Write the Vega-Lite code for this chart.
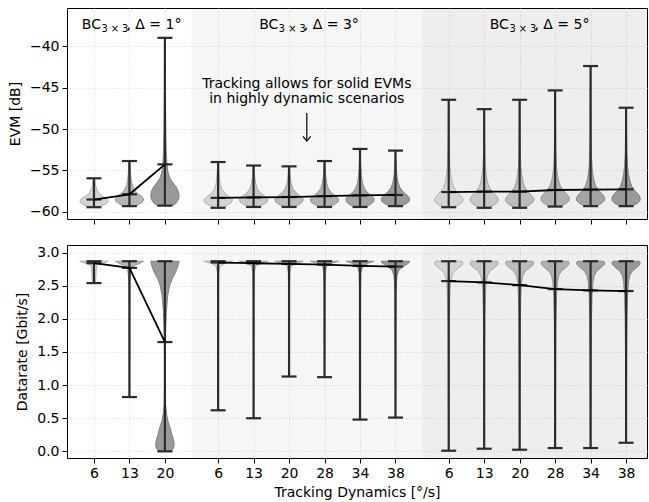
{
  "$schema": "https://vega.github.io/schema/vega-lite/v6.json",
  "padding": {"left": 7, "top": 7, "right": 1, "bottom": 0},
  "spacing": 19,
  "datasets": {
    "bands": [
      {"x1": 2.75, "x2": 9.25, "g": "b"},
      {"x1": 9.25, "x2": 15.59, "g": "c"}
    ],
    "evm": [
      {"pos": 0, "grp": 1, "speed": 6, "min": -59.43, "max": -55.94, "mean": -58.5},
      {"pos": 1, "grp": 1, "speed": 13, "min": -59.3, "max": -53.86, "mean": -57.87},
      {"pos": 2, "grp": 1, "speed": 20, "min": -59.24, "max": -39.0, "mean": -54.26},
      {"pos": 3.5, "grp": 2, "speed": 6, "min": -59.5, "max": -53.98, "mean": -58.3},
      {"pos": 4.5, "grp": 2, "speed": 13, "min": -59.4, "max": -54.4, "mean": -58.25},
      {"pos": 5.5, "grp": 2, "speed": 20, "min": -59.4, "max": -54.5, "mean": -58.2},
      {"pos": 6.5, "grp": 2, "speed": 28, "min": -59.4, "max": -53.86, "mean": -58.1},
      {"pos": 7.5, "grp": 2, "speed": 34, "min": -59.4, "max": -52.4, "mean": -58.0},
      {"pos": 8.5, "grp": 2, "speed": 38, "min": -59.3, "max": -52.6, "mean": -57.95},
      {"pos": 10, "grp": 3, "speed": 6, "min": -59.43, "max": -46.47, "mean": -57.6},
      {"pos": 11, "grp": 3, "speed": 13, "min": -59.5, "max": -47.6, "mean": -57.55},
      {"pos": 12, "grp": 3, "speed": 20, "min": -59.5, "max": -46.47, "mean": -57.55},
      {"pos": 13, "grp": 3, "speed": 28, "min": -59.35, "max": -45.34, "mean": -57.35},
      {"pos": 14, "grp": 3, "speed": 34, "min": -59.3, "max": -42.4, "mean": -57.3},
      {"pos": 15, "grp": 3, "speed": 38, "min": -59.3, "max": -47.43, "mean": -57.27}
    ],
    "dr": [
      {"pos": 0, "grp": 1, "speed": 6, "min": 2.54, "max": 2.87, "mean": 2.84},
      {"pos": 1, "grp": 1, "speed": 13, "min": 0.82, "max": 2.87, "mean": 2.77},
      {"pos": 2, "grp": 1, "speed": 20, "min": 0.0, "max": 2.87, "mean": 1.65},
      {"pos": 3.5, "grp": 2, "speed": 6, "min": 0.62, "max": 2.87, "mean": 2.85},
      {"pos": 4.5, "grp": 2, "speed": 13, "min": 0.5, "max": 2.87, "mean": 2.84},
      {"pos": 5.5, "grp": 2, "speed": 20, "min": 1.13, "max": 2.87, "mean": 2.83},
      {"pos": 6.5, "grp": 2, "speed": 28, "min": 1.12, "max": 2.87, "mean": 2.82},
      {"pos": 7.5, "grp": 2, "speed": 34, "min": 0.48, "max": 2.87, "mean": 2.8},
      {"pos": 8.5, "grp": 2, "speed": 38, "min": 0.51, "max": 2.87, "mean": 2.79},
      {"pos": 10, "grp": 3, "speed": 6, "min": 0.01, "max": 2.87, "mean": 2.57},
      {"pos": 11, "grp": 3, "speed": 13, "min": 0.04, "max": 2.87, "mean": 2.55},
      {"pos": 12, "grp": 3, "speed": 20, "min": 0.025, "max": 2.87, "mean": 2.51},
      {"pos": 13, "grp": 3, "speed": 28, "min": 0.05, "max": 2.87, "mean": 2.45},
      {"pos": 14, "grp": 3, "speed": 34, "min": 0.05, "max": 2.87, "mean": 2.43},
      {"pos": 15, "grp": 3, "speed": 38, "min": 0.13, "max": 2.87, "mean": 2.42}
    ],
    "evmv": [
      {"pos": 0, "lv": 0, "y": -59.43, "w": 0.12}, {"pos": 0, "lv": 0, "y": -59.2, "w": 0.26}, {"pos": 0, "lv": 0, "y": -58.95, "w": 0.36}, {"pos": 0, "lv": 0, "y": -58.7, "w": 0.4}, {"pos": 0, "lv": 0, "y": -58.4, "w": 0.35}, {"pos": 0, "lv": 0, "y": -58.1, "w": 0.24}, {"pos": 0, "lv": 0, "y": -57.7, "w": 0.13}, {"pos": 0, "lv": 0, "y": -57.2, "w": 0.07}, {"pos": 0, "lv": 0, "y": -56.6, "w": 0.04}, {"pos": 0, "lv": 0, "y": -55.94, "w": 0.02},
      {"pos": 1, "lv": 0.5, "y": -59.3, "w": 0.14}, {"pos": 1, "lv": 0.5, "y": -59.0, "w": 0.3}, {"pos": 1, "lv": 0.5, "y": -58.7, "w": 0.39}, {"pos": 1, "lv": 0.5, "y": -58.4, "w": 0.4}, {"pos": 1, "lv": 0.5, "y": -58.1, "w": 0.34}, {"pos": 1, "lv": 0.5, "y": -57.8, "w": 0.24}, {"pos": 1, "lv": 0.5, "y": -57.4, "w": 0.15}, {"pos": 1, "lv": 0.5, "y": -56.9, "w": 0.09}, {"pos": 1, "lv": 0.5, "y": -56.2, "w": 0.05}, {"pos": 1, "lv": 0.5, "y": -55.2, "w": 0.03}, {"pos": 1, "lv": 0.5, "y": -53.86, "w": 0.015},
      {"pos": 2, "lv": 1, "y": -59.24, "w": 0.2}, {"pos": 2, "lv": 1, "y": -59.0, "w": 0.3}, {"pos": 2, "lv": 1, "y": -58.5, "w": 0.38}, {"pos": 2, "lv": 1, "y": -58.0, "w": 0.4}, {"pos": 2, "lv": 1, "y": -57.5, "w": 0.38}, {"pos": 2, "lv": 1, "y": -57.0, "w": 0.32}, {"pos": 2, "lv": 1, "y": -56.5, "w": 0.23}, {"pos": 2, "lv": 1, "y": -56.0, "w": 0.15}, {"pos": 2, "lv": 1, "y": -55.3, "w": 0.09}, {"pos": 2, "lv": 1, "y": -54.3, "w": 0.06}, {"pos": 2, "lv": 1, "y": -52.5, "w": 0.035}, {"pos": 2, "lv": 1, "y": -49, "w": 0.022}, {"pos": 2, "lv": 1, "y": -45, "w": 0.015}, {"pos": 2, "lv": 1, "y": -42, "w": 0.012}, {"pos": 2, "lv": 1, "y": -39.0, "w": 0.008},
      {"pos": 3.5, "lv": 0, "y": -59.5, "w": 0.1}, {"pos": 3.5, "lv": 0, "y": -59.2, "w": 0.25}, {"pos": 3.5, "lv": 0, "y": -58.9, "w": 0.37}, {"pos": 3.5, "lv": 0, "y": -58.55, "w": 0.4}, {"pos": 3.5, "lv": 0, "y": -58.2, "w": 0.32}, {"pos": 3.5, "lv": 0, "y": -57.8, "w": 0.2}, {"pos": 3.5, "lv": 0, "y": -57.3, "w": 0.11}, {"pos": 3.5, "lv": 0, "y": -56.7, "w": 0.06}, {"pos": 3.5, "lv": 0, "y": -55.8, "w": 0.035}, {"pos": 3.5, "lv": 0, "y": -54.8, "w": 0.02}, {"pos": 3.5, "lv": 0, "y": -53.98, "w": 0.01},
      {"pos": 4.5, "lv": 0.2, "y": -59.4, "w": 0.12}, {"pos": 4.5, "lv": 0.2, "y": -59.1, "w": 0.28}, {"pos": 4.5, "lv": 0.2, "y": -58.8, "w": 0.38}, {"pos": 4.5, "lv": 0.2, "y": -58.45, "w": 0.4}, {"pos": 4.5, "lv": 0.2, "y": -58.1, "w": 0.31}, {"pos": 4.5, "lv": 0.2, "y": -57.7, "w": 0.19}, {"pos": 4.5, "lv": 0.2, "y": -57.2, "w": 0.1}, {"pos": 4.5, "lv": 0.2, "y": -56.6, "w": 0.06}, {"pos": 4.5, "lv": 0.2, "y": -55.7, "w": 0.03}, {"pos": 4.5, "lv": 0.2, "y": -54.4, "w": 0.012},
      {"pos": 5.5, "lv": 0.4, "y": -59.4, "w": 0.12}, {"pos": 5.5, "lv": 0.4, "y": -59.1, "w": 0.28}, {"pos": 5.5, "lv": 0.4, "y": -58.8, "w": 0.38}, {"pos": 5.5, "lv": 0.4, "y": -58.45, "w": 0.4}, {"pos": 5.5, "lv": 0.4, "y": -58.1, "w": 0.32}, {"pos": 5.5, "lv": 0.4, "y": -57.7, "w": 0.2}, {"pos": 5.5, "lv": 0.4, "y": -57.2, "w": 0.11}, {"pos": 5.5, "lv": 0.4, "y": -56.6, "w": 0.06}, {"pos": 5.5, "lv": 0.4, "y": -55.7, "w": 0.03}, {"pos": 5.5, "lv": 0.4, "y": -54.5, "w": 0.012},
      {"pos": 6.5, "lv": 0.6, "y": -59.4, "w": 0.12}, {"pos": 6.5, "lv": 0.6, "y": -59.1, "w": 0.28}, {"pos": 6.5, "lv": 0.6, "y": -58.8, "w": 0.38}, {"pos": 6.5, "lv": 0.6, "y": -58.45, "w": 0.4}, {"pos": 6.5, "lv": 0.6, "y": -58.1, "w": 0.32}, {"pos": 6.5, "lv": 0.6, "y": -57.7, "w": 0.2}, {"pos": 6.5, "lv": 0.6, "y": -57.2, "w": 0.11}, {"pos": 6.5, "lv": 0.6, "y": -56.6, "w": 0.065}, {"pos": 6.5, "lv": 0.6, "y": -55.7, "w": 0.035}, {"pos": 6.5, "lv": 0.6, "y": -54.8, "w": 0.02}, {"pos": 6.5, "lv": 0.6, "y": -53.86, "w": 0.01},
      {"pos": 7.5, "lv": 0.8, "y": -59.4, "w": 0.13}, {"pos": 7.5, "lv": 0.8, "y": -59.1, "w": 0.29}, {"pos": 7.5, "lv": 0.8, "y": -58.8, "w": 0.38}, {"pos": 7.5, "lv": 0.8, "y": -58.4, "w": 0.4}, {"pos": 7.5, "lv": 0.8, "y": -58.05, "w": 0.33}, {"pos": 7.5, "lv": 0.8, "y": -57.65, "w": 0.21}, {"pos": 7.5, "lv": 0.8, "y": -57.15, "w": 0.12}, {"pos": 7.5, "lv": 0.8, "y": -56.5, "w": 0.07}, {"pos": 7.5, "lv": 0.8, "y": -55.6, "w": 0.04}, {"pos": 7.5, "lv": 0.8, "y": -54.5, "w": 0.022}, {"pos": 7.5, "lv": 0.8, "y": -53.5, "w": 0.012}, {"pos": 7.5, "lv": 0.8, "y": -52.4, "w": 0.006},
      {"pos": 8.5, "lv": 1, "y": -59.3, "w": 0.15}, {"pos": 8.5, "lv": 1, "y": -59.0, "w": 0.3}, {"pos": 8.5, "lv": 1, "y": -58.7, "w": 0.39}, {"pos": 8.5, "lv": 1, "y": -58.35, "w": 0.4}, {"pos": 8.5, "lv": 1, "y": -58.0, "w": 0.33}, {"pos": 8.5, "lv": 1, "y": -57.6, "w": 0.22}, {"pos": 8.5, "lv": 1, "y": -57.1, "w": 0.13}, {"pos": 8.5, "lv": 1, "y": -56.5, "w": 0.075}, {"pos": 8.5, "lv": 1, "y": -55.6, "w": 0.04}, {"pos": 8.5, "lv": 1, "y": -54.5, "w": 0.022}, {"pos": 8.5, "lv": 1, "y": -53.5, "w": 0.012}, {"pos": 8.5, "lv": 1, "y": -52.6, "w": 0.006},
      {"pos": 10, "lv": 0, "y": -59.43, "w": 0.12}, {"pos": 10, "lv": 0, "y": -59.1, "w": 0.3}, {"pos": 10, "lv": 0, "y": -58.75, "w": 0.39}, {"pos": 10, "lv": 0, "y": -58.4, "w": 0.4}, {"pos": 10, "lv": 0, "y": -58.0, "w": 0.33}, {"pos": 10, "lv": 0, "y": -57.5, "w": 0.22}, {"pos": 10, "lv": 0, "y": -57.0, "w": 0.14}, {"pos": 10, "lv": 0, "y": -56.4, "w": 0.095}, {"pos": 10, "lv": 0, "y": -55.6, "w": 0.06}, {"pos": 10, "lv": 0, "y": -54.6, "w": 0.035}, {"pos": 10, "lv": 0, "y": -53, "w": 0.02}, {"pos": 10, "lv": 0, "y": -50.5, "w": 0.012}, {"pos": 10, "lv": 0, "y": -48, "w": 0.008}, {"pos": 10, "lv": 0, "y": -46.47, "w": 0.005},
      {"pos": 11, "lv": 0.2, "y": -59.5, "w": 0.12}, {"pos": 11, "lv": 0.2, "y": -59.1, "w": 0.3}, {"pos": 11, "lv": 0.2, "y": -58.75, "w": 0.39}, {"pos": 11, "lv": 0.2, "y": -58.4, "w": 0.4}, {"pos": 11, "lv": 0.2, "y": -58.0, "w": 0.33}, {"pos": 11, "lv": 0.2, "y": -57.5, "w": 0.22}, {"pos": 11, "lv": 0.2, "y": -57.0, "w": 0.14}, {"pos": 11, "lv": 0.2, "y": -56.4, "w": 0.095}, {"pos": 11, "lv": 0.2, "y": -55.6, "w": 0.06}, {"pos": 11, "lv": 0.2, "y": -54.6, "w": 0.035}, {"pos": 11, "lv": 0.2, "y": -53, "w": 0.02}, {"pos": 11, "lv": 0.2, "y": -50.5, "w": 0.012}, {"pos": 11, "lv": 0.2, "y": -48.5, "w": 0.008}, {"pos": 11, "lv": 0.2, "y": -47.6, "w": 0.006},
      {"pos": 12, "lv": 0.4, "y": -59.5, "w": 0.12}, {"pos": 12, "lv": 0.4, "y": -59.1, "w": 0.3}, {"pos": 12, "lv": 0.4, "y": -58.75, "w": 0.39}, {"pos": 12, "lv": 0.4, "y": -58.4, "w": 0.4}, {"pos": 12, "lv": 0.4, "y": -58.0, "w": 0.33}, {"pos": 12, "lv": 0.4, "y": -57.5, "w": 0.22}, {"pos": 12, "lv": 0.4, "y": -57.0, "w": 0.14}, {"pos": 12, "lv": 0.4, "y": -56.4, "w": 0.095}, {"pos": 12, "lv": 0.4, "y": -55.6, "w": 0.06}, {"pos": 12, "lv": 0.4, "y": -54.6, "w": 0.035}, {"pos": 12, "lv": 0.4, "y": -53, "w": 0.02}, {"pos": 12, "lv": 0.4, "y": -50.5, "w": 0.012}, {"pos": 12, "lv": 0.4, "y": -48, "w": 0.008}, {"pos": 12, "lv": 0.4, "y": -46.47, "w": 0.005},
      {"pos": 13, "lv": 0.6, "y": -59.35, "w": 0.13}, {"pos": 13, "lv": 0.6, "y": -59.0, "w": 0.3}, {"pos": 13, "lv": 0.6, "y": -58.65, "w": 0.39}, {"pos": 13, "lv": 0.6, "y": -58.3, "w": 0.4}, {"pos": 13, "lv": 0.6, "y": -57.9, "w": 0.34}, {"pos": 13, "lv": 0.6, "y": -57.4, "w": 0.23}, {"pos": 13, "lv": 0.6, "y": -56.9, "w": 0.15}, {"pos": 13, "lv": 0.6, "y": -56.3, "w": 0.1}, {"pos": 13, "lv": 0.6, "y": -55.5, "w": 0.065}, {"pos": 13, "lv": 0.6, "y": -54.5, "w": 0.04}, {"pos": 13, "lv": 0.6, "y": -53, "w": 0.022}, {"pos": 13, "lv": 0.6, "y": -50.5, "w": 0.013}, {"pos": 13, "lv": 0.6, "y": -48, "w": 0.009}, {"pos": 13, "lv": 0.6, "y": -45.34, "w": 0.005},
      {"pos": 14, "lv": 0.8, "y": -59.3, "w": 0.13}, {"pos": 14, "lv": 0.8, "y": -59.0, "w": 0.3}, {"pos": 14, "lv": 0.8, "y": -58.65, "w": 0.39}, {"pos": 14, "lv": 0.8, "y": -58.3, "w": 0.4}, {"pos": 14, "lv": 0.8, "y": -57.9, "w": 0.34}, {"pos": 14, "lv": 0.8, "y": -57.4, "w": 0.23}, {"pos": 14, "lv": 0.8, "y": -56.9, "w": 0.15}, {"pos": 14, "lv": 0.8, "y": -56.3, "w": 0.1}, {"pos": 14, "lv": 0.8, "y": -55.5, "w": 0.065}, {"pos": 14, "lv": 0.8, "y": -54.5, "w": 0.04}, {"pos": 14, "lv": 0.8, "y": -53, "w": 0.022}, {"pos": 14, "lv": 0.8, "y": -50.5, "w": 0.013}, {"pos": 14, "lv": 0.8, "y": -48, "w": 0.009}, {"pos": 14, "lv": 0.8, "y": -45, "w": 0.006}, {"pos": 14, "lv": 0.8, "y": -42.4, "w": 0.004},
      {"pos": 15, "lv": 1, "y": -59.3, "w": 0.14}, {"pos": 15, "lv": 1, "y": -59.0, "w": 0.31}, {"pos": 15, "lv": 1, "y": -58.65, "w": 0.39}, {"pos": 15, "lv": 1, "y": -58.3, "w": 0.4}, {"pos": 15, "lv": 1, "y": -57.9, "w": 0.35}, {"pos": 15, "lv": 1, "y": -57.4, "w": 0.24}, {"pos": 15, "lv": 1, "y": -56.9, "w": 0.16}, {"pos": 15, "lv": 1, "y": -56.3, "w": 0.11}, {"pos": 15, "lv": 1, "y": -55.5, "w": 0.07}, {"pos": 15, "lv": 1, "y": -54.5, "w": 0.042}, {"pos": 15, "lv": 1, "y": -53, "w": 0.024}, {"pos": 15, "lv": 1, "y": -50.5, "w": 0.014}, {"pos": 15, "lv": 1, "y": -47.43, "w": 0.007}
    ],
    "drv": [
      {"pos": 0, "lv": 0, "y": 2.54, "w": 0.04}, {"pos": 0, "lv": 0, "y": 2.6, "w": 0.05}, {"pos": 0, "lv": 0, "y": 2.7, "w": 0.06}, {"pos": 0, "lv": 0, "y": 2.78, "w": 0.07}, {"pos": 0, "lv": 0, "y": 2.82, "w": 0.12}, {"pos": 0, "lv": 0, "y": 2.85, "w": 0.3}, {"pos": 0, "lv": 0, "y": 2.87, "w": 0.4},
      {"pos": 1, "lv": 0.5, "y": 0.82, "w": 0.005}, {"pos": 1, "lv": 0.5, "y": 1.5, "w": 0.008}, {"pos": 1, "lv": 0.5, "y": 2.2, "w": 0.012}, {"pos": 1, "lv": 0.5, "y": 2.6, "w": 0.02}, {"pos": 1, "lv": 0.5, "y": 2.75, "w": 0.05}, {"pos": 1, "lv": 0.5, "y": 2.8, "w": 0.12}, {"pos": 1, "lv": 0.5, "y": 2.84, "w": 0.3}, {"pos": 1, "lv": 0.5, "y": 2.87, "w": 0.4},
      {"pos": 2, "lv": 1, "y": 0.0, "w": 0.18}, {"pos": 2, "lv": 1, "y": 0.03, "w": 0.22}, {"pos": 2, "lv": 1, "y": 0.08, "w": 0.26}, {"pos": 2, "lv": 1, "y": 0.15, "w": 0.25}, {"pos": 2, "lv": 1, "y": 0.25, "w": 0.2}, {"pos": 2, "lv": 1, "y": 0.35, "w": 0.15}, {"pos": 2, "lv": 1, "y": 0.45, "w": 0.09}, {"pos": 2, "lv": 1, "y": 0.55, "w": 0.05}, {"pos": 2, "lv": 1, "y": 0.7, "w": 0.02}, {"pos": 2, "lv": 1, "y": 1.0, "w": 0.01}, {"pos": 2, "lv": 1, "y": 1.4, "w": 0.01}, {"pos": 2, "lv": 1, "y": 1.8, "w": 0.02}, {"pos": 2, "lv": 1, "y": 2.1, "w": 0.04}, {"pos": 2, "lv": 1, "y": 2.35, "w": 0.08}, {"pos": 2, "lv": 1, "y": 2.5, "w": 0.13}, {"pos": 2, "lv": 1, "y": 2.6, "w": 0.2}, {"pos": 2, "lv": 1, "y": 2.7, "w": 0.3}, {"pos": 2, "lv": 1, "y": 2.8, "w": 0.37}, {"pos": 2, "lv": 1, "y": 2.87, "w": 0.4},
      {"pos": 3.5, "lv": 0, "y": 0.62, "w": 0.004}, {"pos": 3.5, "lv": 0, "y": 1.5, "w": 0.006}, {"pos": 3.5, "lv": 0, "y": 2.4, "w": 0.01}, {"pos": 3.5, "lv": 0, "y": 2.7, "w": 0.02}, {"pos": 3.5, "lv": 0, "y": 2.8, "w": 0.06}, {"pos": 3.5, "lv": 0, "y": 2.84, "w": 0.2}, {"pos": 3.5, "lv": 0, "y": 2.87, "w": 0.4},
      {"pos": 4.5, "lv": 0.2, "y": 0.5, "w": 0.004}, {"pos": 4.5, "lv": 0.2, "y": 1.5, "w": 0.006}, {"pos": 4.5, "lv": 0.2, "y": 2.4, "w": 0.01}, {"pos": 4.5, "lv": 0.2, "y": 2.7, "w": 0.02}, {"pos": 4.5, "lv": 0.2, "y": 2.8, "w": 0.06}, {"pos": 4.5, "lv": 0.2, "y": 2.84, "w": 0.2}, {"pos": 4.5, "lv": 0.2, "y": 2.87, "w": 0.4},
      {"pos": 5.5, "lv": 0.4, "y": 1.13, "w": 0.004}, {"pos": 5.5, "lv": 0.4, "y": 1.5, "w": 0.006}, {"pos": 5.5, "lv": 0.4, "y": 2.4, "w": 0.01}, {"pos": 5.5, "lv": 0.4, "y": 2.7, "w": 0.02}, {"pos": 5.5, "lv": 0.4, "y": 2.8, "w": 0.06}, {"pos": 5.5, "lv": 0.4, "y": 2.84, "w": 0.2}, {"pos": 5.5, "lv": 0.4, "y": 2.87, "w": 0.4},
      {"pos": 6.5, "lv": 0.6, "y": 1.12, "w": 0.004}, {"pos": 6.5, "lv": 0.6, "y": 1.5, "w": 0.006}, {"pos": 6.5, "lv": 0.6, "y": 2.4, "w": 0.01}, {"pos": 6.5, "lv": 0.6, "y": 2.7, "w": 0.02}, {"pos": 6.5, "lv": 0.6, "y": 2.8, "w": 0.06}, {"pos": 6.5, "lv": 0.6, "y": 2.84, "w": 0.2}, {"pos": 6.5, "lv": 0.6, "y": 2.87, "w": 0.4},
      {"pos": 7.5, "lv": 0.8, "y": 0.48, "w": 0.004}, {"pos": 7.5, "lv": 0.8, "y": 1.5, "w": 0.006}, {"pos": 7.5, "lv": 0.8, "y": 2.4, "w": 0.012}, {"pos": 7.5, "lv": 0.8, "y": 2.7, "w": 0.025}, {"pos": 7.5, "lv": 0.8, "y": 2.8, "w": 0.08}, {"pos": 7.5, "lv": 0.8, "y": 2.84, "w": 0.22}, {"pos": 7.5, "lv": 0.8, "y": 2.87, "w": 0.4},
      {"pos": 8.5, "lv": 1, "y": 0.51, "w": 0.004}, {"pos": 8.5, "lv": 1, "y": 1.5, "w": 0.007}, {"pos": 8.5, "lv": 1, "y": 2.4, "w": 0.015}, {"pos": 8.5, "lv": 1, "y": 2.65, "w": 0.04}, {"pos": 8.5, "lv": 1, "y": 2.74, "w": 0.1}, {"pos": 8.5, "lv": 1, "y": 2.8, "w": 0.25}, {"pos": 8.5, "lv": 1, "y": 2.84, "w": 0.37}, {"pos": 8.5, "lv": 1, "y": 2.87, "w": 0.4},
      {"pos": 10, "lv": 0, "y": 0.01, "w": 0.004}, {"pos": 10, "lv": 0, "y": 0.5, "w": 0.006}, {"pos": 10, "lv": 0, "y": 1.0, "w": 0.01}, {"pos": 10, "lv": 0, "y": 1.5, "w": 0.014}, {"pos": 10, "lv": 0, "y": 2.0, "w": 0.02}, {"pos": 10, "lv": 0, "y": 2.35, "w": 0.035}, {"pos": 10, "lv": 0, "y": 2.55, "w": 0.055}, {"pos": 10, "lv": 0, "y": 2.65, "w": 0.09}, {"pos": 10, "lv": 0, "y": 2.72, "w": 0.16}, {"pos": 10, "lv": 0, "y": 2.77, "w": 0.28}, {"pos": 10, "lv": 0, "y": 2.81, "w": 0.37}, {"pos": 10, "lv": 0, "y": 2.84, "w": 0.4}, {"pos": 10, "lv": 0, "y": 2.87, "w": 0.37},
      {"pos": 11, "lv": 0.2, "y": 0.04, "w": 0.004}, {"pos": 11, "lv": 0.2, "y": 0.5, "w": 0.006}, {"pos": 11, "lv": 0.2, "y": 1.0, "w": 0.01}, {"pos": 11, "lv": 0.2, "y": 1.5, "w": 0.014}, {"pos": 11, "lv": 0.2, "y": 2.0, "w": 0.02}, {"pos": 11, "lv": 0.2, "y": 2.35, "w": 0.035}, {"pos": 11, "lv": 0.2, "y": 2.55, "w": 0.055}, {"pos": 11, "lv": 0.2, "y": 2.65, "w": 0.09}, {"pos": 11, "lv": 0.2, "y": 2.72, "w": 0.16}, {"pos": 11, "lv": 0.2, "y": 2.77, "w": 0.28}, {"pos": 11, "lv": 0.2, "y": 2.81, "w": 0.37}, {"pos": 11, "lv": 0.2, "y": 2.84, "w": 0.4}, {"pos": 11, "lv": 0.2, "y": 2.87, "w": 0.37},
      {"pos": 12, "lv": 0.4, "y": 0.025, "w": 0.004}, {"pos": 12, "lv": 0.4, "y": 0.5, "w": 0.006}, {"pos": 12, "lv": 0.4, "y": 1.0, "w": 0.01}, {"pos": 12, "lv": 0.4, "y": 1.5, "w": 0.014}, {"pos": 12, "lv": 0.4, "y": 2.0, "w": 0.02}, {"pos": 12, "lv": 0.4, "y": 2.35, "w": 0.035}, {"pos": 12, "lv": 0.4, "y": 2.55, "w": 0.055}, {"pos": 12, "lv": 0.4, "y": 2.65, "w": 0.09}, {"pos": 12, "lv": 0.4, "y": 2.72, "w": 0.16}, {"pos": 12, "lv": 0.4, "y": 2.77, "w": 0.28}, {"pos": 12, "lv": 0.4, "y": 2.81, "w": 0.37}, {"pos": 12, "lv": 0.4, "y": 2.84, "w": 0.4}, {"pos": 12, "lv": 0.4, "y": 2.87, "w": 0.37},
      {"pos": 13, "lv": 0.6, "y": 0.05, "w": 0.005}, {"pos": 13, "lv": 0.6, "y": 0.5, "w": 0.007}, {"pos": 13, "lv": 0.6, "y": 1.0, "w": 0.012}, {"pos": 13, "lv": 0.6, "y": 1.5, "w": 0.017}, {"pos": 13, "lv": 0.6, "y": 2.0, "w": 0.025}, {"pos": 13, "lv": 0.6, "y": 2.35, "w": 0.04}, {"pos": 13, "lv": 0.6, "y": 2.55, "w": 0.065}, {"pos": 13, "lv": 0.6, "y": 2.65, "w": 0.1}, {"pos": 13, "lv": 0.6, "y": 2.72, "w": 0.17}, {"pos": 13, "lv": 0.6, "y": 2.77, "w": 0.29}, {"pos": 13, "lv": 0.6, "y": 2.81, "w": 0.37}, {"pos": 13, "lv": 0.6, "y": 2.84, "w": 0.4}, {"pos": 13, "lv": 0.6, "y": 2.87, "w": 0.37},
      {"pos": 14, "lv": 0.8, "y": 0.05, "w": 0.005}, {"pos": 14, "lv": 0.8, "y": 0.5, "w": 0.007}, {"pos": 14, "lv": 0.8, "y": 1.0, "w": 0.012}, {"pos": 14, "lv": 0.8, "y": 1.5, "w": 0.017}, {"pos": 14, "lv": 0.8, "y": 2.0, "w": 0.025}, {"pos": 14, "lv": 0.8, "y": 2.35, "w": 0.04}, {"pos": 14, "lv": 0.8, "y": 2.55, "w": 0.065}, {"pos": 14, "lv": 0.8, "y": 2.65, "w": 0.1}, {"pos": 14, "lv": 0.8, "y": 2.72, "w": 0.17}, {"pos": 14, "lv": 0.8, "y": 2.77, "w": 0.29}, {"pos": 14, "lv": 0.8, "y": 2.81, "w": 0.37}, {"pos": 14, "lv": 0.8, "y": 2.84, "w": 0.4}, {"pos": 14, "lv": 0.8, "y": 2.87, "w": 0.37},
      {"pos": 15, "lv": 1, "y": 0.13, "w": 0.005}, {"pos": 15, "lv": 1, "y": 0.5, "w": 0.007}, {"pos": 15, "lv": 1, "y": 1.0, "w": 0.012}, {"pos": 15, "lv": 1, "y": 1.5, "w": 0.017}, {"pos": 15, "lv": 1, "y": 2.0, "w": 0.025}, {"pos": 15, "lv": 1, "y": 2.35, "w": 0.04}, {"pos": 15, "lv": 1, "y": 2.55, "w": 0.065}, {"pos": 15, "lv": 1, "y": 2.65, "w": 0.1}, {"pos": 15, "lv": 1, "y": 2.72, "w": 0.17}, {"pos": 15, "lv": 1, "y": 2.77, "w": 0.29}, {"pos": 15, "lv": 1, "y": 2.81, "w": 0.37}, {"pos": 15, "lv": 1, "y": 2.84, "w": 0.4}, {"pos": 15, "lv": 1, "y": 2.87, "w": 0.37}
    ],
    "titles": [
      {"x": 1, "y": -37.95, "rest": ", Δ = 1°"},
      {"x": 6, "y": -37.95, "rest": ", Δ = 3°"},
      {"x": 12.5, "y": -37.95, "rest": ", Δ = 5°"}
    ],
    "note": [
      {"x": 6, "y": -45.02, "text": "Tracking allows for solid EVMs"},
      {"x": 6, "y": -46.83, "text": "in highly dynamic scenarios"}
    ],
    "arrow": [
      {"x": 6, "y1": -48.05, "y2": -51.45}
    ]
  },
  "vconcat": [
    {
      "width": 580,
      "height": 211,
      "layer": [
        {
          "data": {"name": "bands"},
          "mark": {"type": "rect"},
          "encoding": {
            "x": {"field": "x1", "type": "quantitative", "scale": {"domain": [-0.76, 15.59], "nice": false, "zero": false},
                  "axis": {"values": [0, 1, 2, 3.5, 4.5, 5.5, 6.5, 7.5, 8.5, 10, 11, 12, 13, 14, 15], "labels": false, "title": null, "grid": true}},
            "x2": {"field": "x2"},
            "fill": {"field": "g", "type": "nominal", "scale": {"domain": ["b", "c"], "range": ["rgba(0,0,0,0.035)", "rgba(0,0,0,0.065)"]}, "legend": null}
          }
        },
        {
          "data": {"name": "evmv"},
          "transform": [
            {"calculate": "datum.pos - datum.w", "as": "lo"},
            {"calculate": "datum.pos + datum.w", "as": "hi"}
          ],
          "mark": {"type": "area", "orient": "horizontal", "strokeWidth": 1, "fillOpacity": 0.95},
          "encoding": {
            "y": {"field": "y", "type": "quantitative", "scale": {"domain": [-60.85, -35.4], "nice": false, "zero": false},
                  "axis": {"values": [-60, -55, -50, -45, -40], "title": "EVM [dB]", "grid": true, "labelOverlap": false}},
            "x": {"field": "lo", "type": "quantitative", "scale": {"domain": [-0.76, 15.59], "nice": false, "zero": false}},
            "x2": {"field": "hi"},
            "detail": {"field": "pos", "type": "nominal"},
            "fill": {"field": "lv", "type": "quantitative", "scale": {"domain": [0, 1], "range": ["#d2d2d2", "#939393"]}, "legend": null},
            "stroke": {"field": "lv", "type": "quantitative", "scale": {"domain": [0, 1], "range": ["#b0b0b0", "#808080"]}, "legend": null}
          }
        },
        {
          "data": {"name": "evm"},
          "mark": {"type": "rule", "color": "#2b2b2b", "strokeWidth": 2.2},
          "encoding": {
            "x": {"field": "pos", "type": "quantitative"},
            "y": {"field": "min", "type": "quantitative"},
            "y2": {"field": "max"}
          }
        },
        {
          "data": {"name": "evm"},
          "transform": [{"fold": ["min", "max", "mean"], "as": ["stat", "val"]}],
          "mark": {"type": "tick", "orient": "horizontal", "color": "#2b2b2b", "size": 15, "thickness": 2.2, "opacity": 1},
          "encoding": {
            "x": {"field": "pos", "type": "quantitative"},
            "y": {"field": "val", "type": "quantitative"}
          }
        },
        {
          "data": {"name": "evm"},
          "mark": {"type": "line", "color": "black", "strokeWidth": 1.8},
          "encoding": {
            "x": {"field": "pos", "type": "quantitative"},
            "y": {"field": "mean", "type": "quantitative"},
            "detail": {"field": "grp", "type": "nominal"}
          }
        },
        {
          "data": {"name": "titles"},
          "mark": {"type": "text", "align": "right", "baseline": "alphabetic", "fontSize": 14, "dx": -28.5, "color": "black"},
          "encoding": {
            "x": {"field": "x", "type": "quantitative"},
            "y": {"field": "y", "type": "quantitative"},
            "text": {"value": "BC"}
          }
        },
        {
          "data": {"name": "titles"},
          "mark": {"type": "text", "align": "left", "baseline": "alphabetic", "fontSize": 9.8, "dx": -28, "dy": 3, "color": "black"},
          "encoding": {
            "x": {"field": "x", "type": "quantitative"},
            "y": {"field": "y", "type": "quantitative"},
            "text": {"value": "3 × 3"}
          }
        },
        {
          "data": {"name": "titles"},
          "mark": {"type": "text", "align": "left", "baseline": "alphabetic", "fontSize": 14, "dx": -3, "color": "black"},
          "encoding": {
            "x": {"field": "x", "type": "quantitative"},
            "y": {"field": "y", "type": "quantitative"},
            "text": {"field": "rest"}
          }
        },
        {
          "data": {"name": "note"},
          "mark": {"type": "text", "align": "center", "baseline": "alphabetic", "fontSize": 14, "color": "black"},
          "encoding": {
            "x": {"field": "x", "type": "quantitative"},
            "y": {"field": "y", "type": "quantitative"},
            "text": {"field": "text"}
          }
        },
        {
          "data": {"name": "arrow"},
          "mark": {"type": "rule", "color": "black", "strokeWidth": 1.2},
          "encoding": {
            "x": {"field": "x", "type": "quantitative"},
            "y": {"field": "y1", "type": "quantitative"},
            "y2": {"field": "y2"}
          }
        },
        {
          "data": {"name": "arrow"},
          "mark": {"type": "point", "shape": "M -1 -1.2 L 0 0 L 1 -1.2", "filled": false, "color": "black", "strokeWidth": 1.2, "size": 60, "opacity": 1},
          "encoding": {
            "x": {"field": "x", "type": "quantitative"},
            "y": {"field": "y2", "type": "quantitative"}
          }
        }
      ]
    },
    {
      "width": 580,
      "height": 213,
      "layer": [
        {
          "data": {"name": "bands"},
          "mark": {"type": "rect"},
          "encoding": {
            "x": {"field": "x1", "type": "quantitative", "scale": {"domain": [-0.76, 15.59], "nice": false, "zero": false},
                  "axis": {"values": [0, 1, 2, 3.5, 4.5, 5.5, 6.5, 7.5, 8.5, 10, 11, 12, 13, 14, 15], "title": "Tracking Dynamics [°/s]", "grid": true, "titlePadding": 5, "labelOverlap": false,
                           "labelExpr": "[6, 13, 20, 28, 34, 38][datum.value < 3 ? datum.value : (datum.value < 9 ? datum.value - 3.5 : datum.value - 10)]"}},
            "x2": {"field": "x2"},
            "fill": {"field": "g", "type": "nominal", "scale": {"domain": ["b", "c"], "range": ["rgba(0,0,0,0.035)", "rgba(0,0,0,0.065)"]}, "legend": null}
          }
        },
        {
          "data": {"name": "drv"},
          "transform": [
            {"calculate": "datum.pos - datum.w", "as": "lo"},
            {"calculate": "datum.pos + datum.w", "as": "hi"}
          ],
          "mark": {"type": "area", "orient": "horizontal", "strokeWidth": 1, "fillOpacity": 0.95},
          "encoding": {
            "y": {"field": "y", "type": "quantitative", "scale": {"domain": [-0.1, 3.115], "nice": false, "zero": false},
                  "axis": {"values": [0, 0.5, 1, 1.5, 2, 2.5, 3], "format": ".1f", "title": "Datarate [Gbit/s]", "grid": true, "labelOverlap": false, "labelSeparation": 0}},
            "x": {"field": "lo", "type": "quantitative", "scale": {"domain": [-0.76, 15.59], "nice": false, "zero": false}},
            "x2": {"field": "hi"},
            "detail": {"field": "pos", "type": "nominal"},
            "fill": {"field": "lv", "type": "quantitative", "scale": {"domain": [0, 1], "range": ["#d2d2d2", "#939393"]}, "legend": null},
            "stroke": {"field": "lv", "type": "quantitative", "scale": {"domain": [0, 1], "range": ["#b0b0b0", "#808080"]}, "legend": null}
          }
        },
        {
          "data": {"name": "dr"},
          "mark": {"type": "rule", "color": "#2b2b2b", "strokeWidth": 2.2},
          "encoding": {
            "x": {"field": "pos", "type": "quantitative"},
            "y": {"field": "min", "type": "quantitative", "axis": {"values": [0, 0.5, 1, 1.5, 2, 2.5, 3], "format": ".1f", "title": "Datarate [Gbit/s]", "labelOverlap": false}},
            "y2": {"field": "max"}
          }
        },
        {
          "data": {"name": "dr"},
          "transform": [{"fold": ["min", "max", "mean"], "as": ["stat", "val"]}],
          "mark": {"type": "tick", "orient": "horizontal", "color": "#2b2b2b", "size": 15, "thickness": 2.2, "opacity": 1},
          "encoding": {
            "x": {"field": "pos", "type": "quantitative"},
            "y": {"field": "val", "type": "quantitative", "axis": {"values": [0, 0.5, 1, 1.5, 2, 2.5, 3], "format": ".1f", "title": "Datarate [Gbit/s]", "labelOverlap": false}}
          }
        },
        {
          "data": {"name": "dr"},
          "mark": {"type": "line", "color": "black", "strokeWidth": 1.8},
          "encoding": {
            "x": {"field": "pos", "type": "quantitative"},
            "y": {"field": "mean", "type": "quantitative", "axis": {"values": [0, 0.5, 1, 1.5, 2, 2.5, 3], "format": ".1f", "title": "Datarate [Gbit/s]", "labelOverlap": false}},
            "detail": {"field": "grp", "type": "nominal"}
          }
        }
      ]
    }
  ],
  "config": {
    "font": "DejaVu Sans",
    "view": {"stroke": "black", "strokeWidth": 1},
    "axis": {
      "labelFont": "DejaVu Sans", "labelFontSize": 14, "labelColor": "black",
      "titleFont": "DejaVu Sans", "titleFontSize": 14, "titleFontWeight": "normal", "titleColor": "black",
      "tickColor": "black", "tickSize": 5, "tickWidth": 1, "labelPadding": 3, "domain": false,
      "gridColor": "#cfcfcf", "gridDash": [1, 2], "gridWidth": 0.8, "titlePadding": 7,
      "labelOverlap": false
    }
  }
}
